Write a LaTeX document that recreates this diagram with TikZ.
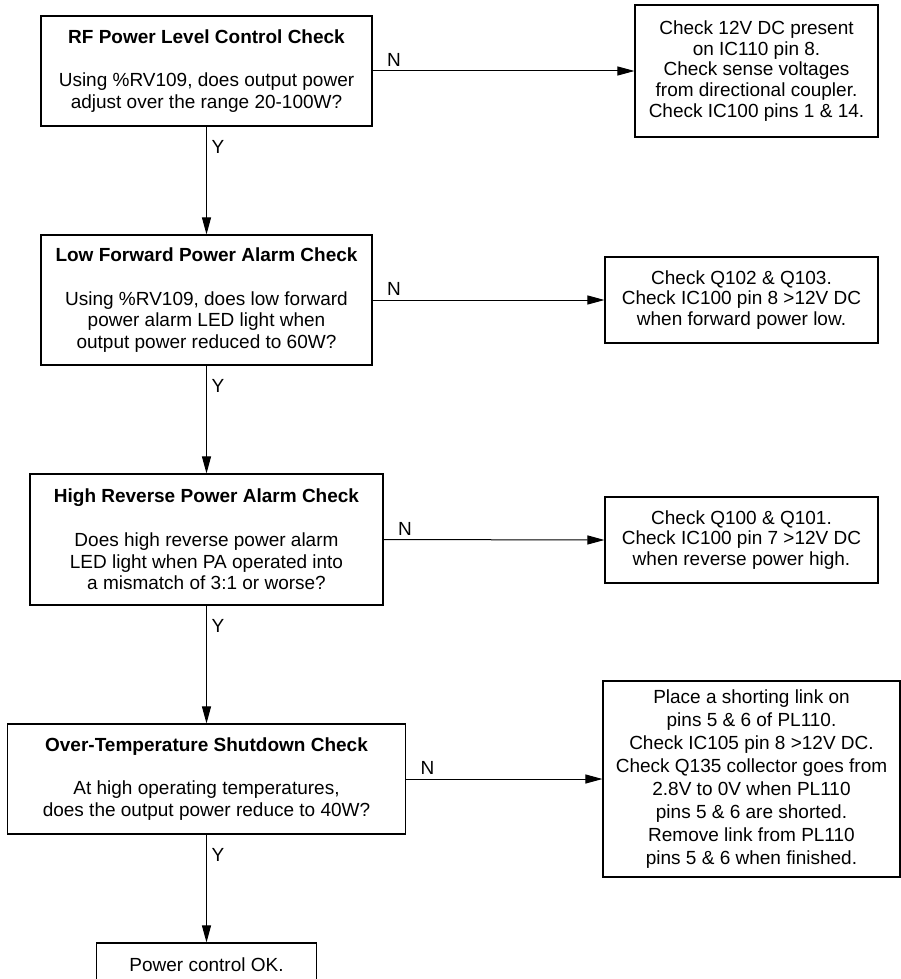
\documentclass[tikz,border=0pt]{standalone}
\usepackage{fontspec}
\setmainfont{Liberation Sans}
\usetikzlibrary{arrows.meta}
\tikzset{
  box/.style={draw=black, line width=1.1pt, inner sep=0pt, align=center, font=\fontsize{19}{21.8}\selectfont},
  act/.style={draw=black, line width=1.1pt, inner sep=0pt, align=center, font=\fontsize{19}{20.6}\selectfont},
  arr/.style={line width=1pt, -{Triangle[length=17pt,width=9pt]}},
  nlab/.style={pos=0, anchor=south west, inner sep=0pt, xshift=14pt, yshift=4pt, font=\fontsize{19}{21.8}\selectfont},
  ylab/.style={pos=0, anchor=north west, inner sep=0pt, xshift=4.5pt, yshift=-13pt, font=\fontsize{19}{21.8}\selectfont}
}
\begin{document}
\begin{tikzpicture}[x=1pt,y=-1pt]
\useasboundingbox (0,0) rectangle (901,979);
\node[box, minimum width=331pt, minimum height=110pt] (b1) at (206.5,71)
  {\textbf{RF Power Level Control Check}\\[22pt]Using \%RV109, does output power\\adjust over the range 20-100W?};
\node[box, minimum width=331pt, minimum height=130pt] (b2) at (206.5,300)
  {\textbf{Low Forward Power Alarm Check}\\[22pt]Using \%RV109, does low forward\\power alarm LED light when\\output power reduced to 60W?};
\node[box, minimum width=353pt, minimum height=131pt] (b3) at (206.5,539.5)
  {\textbf{High Reverse Power Alarm Check}\\[22pt]Does high reverse power alarm\\LED light when PA operated into\\a mismatch of 3:1 or worse?};
\node[box, minimum width=398pt, minimum height=110pt] (b4) at (206.5,779)
  {\textbf{Over-Temperature Shutdown Check}\\[22pt]At high operating temperatures,\\does the output power reduce to 40W?};
\node[box, minimum width=220pt, minimum height=44pt] (b5) at (206.5,965)
  {Power control OK.};
\node[act, minimum width=243pt, minimum height=132pt] (r1) at (756.5,71)
  {Check 12V DC present\\on IC110 pin 8.\\Check sense voltages\\from directional coupler.\\Check IC100 pins 1 \& 14.};
\node[act, minimum width=273pt, minimum height=86pt] (r2) at (741.5,300)
  {Check Q102 \& Q103.\\Check IC100 pin 8 >12V DC\\when forward power low.};
\node[act, minimum width=273pt, minimum height=86pt] (r3) at (741.5,540)
  {Check Q100 \& Q101.\\Check IC100 pin 7 >12V DC\\when reverse power high.};
\node[act, font=\fontsize{19}{22.9}\selectfont, minimum width=297pt, minimum height=196pt] (r4) at (751.5,779)
  {Place a shorting link on\\pins 5 \& 6 of PL110.\\Check IC105 pin 8 >12V DC.\\Check Q135 collector goes from\\2.8V to 0V when PL110\\pins 5 \& 6 are shorted.\\Remove link from PL110\\pins 5 \& 6 when finished.};
\draw[arr] (b1.south) -- (b2.north) node[ylab] {Y};
\draw[arr] (b2.south) -- (b3.north) node[ylab] {Y};
\draw[arr] (b3.south) -- (b4.north) node[ylab] {Y};
\draw[arr] (b4.south) -- (b5.north) node[ylab] {Y};
\draw[arr] (b1.east) -- (r1.west) node[nlab] {N};
\draw[arr] (b2.east) -- (r2.west) node[nlab] {N};
\draw[arr] (b3.east) -- (r3.west) node[nlab] {N};
\draw[arr] (b4.east) -- (r4.west) node[nlab] {N};
\end{tikzpicture}
\end{document}
